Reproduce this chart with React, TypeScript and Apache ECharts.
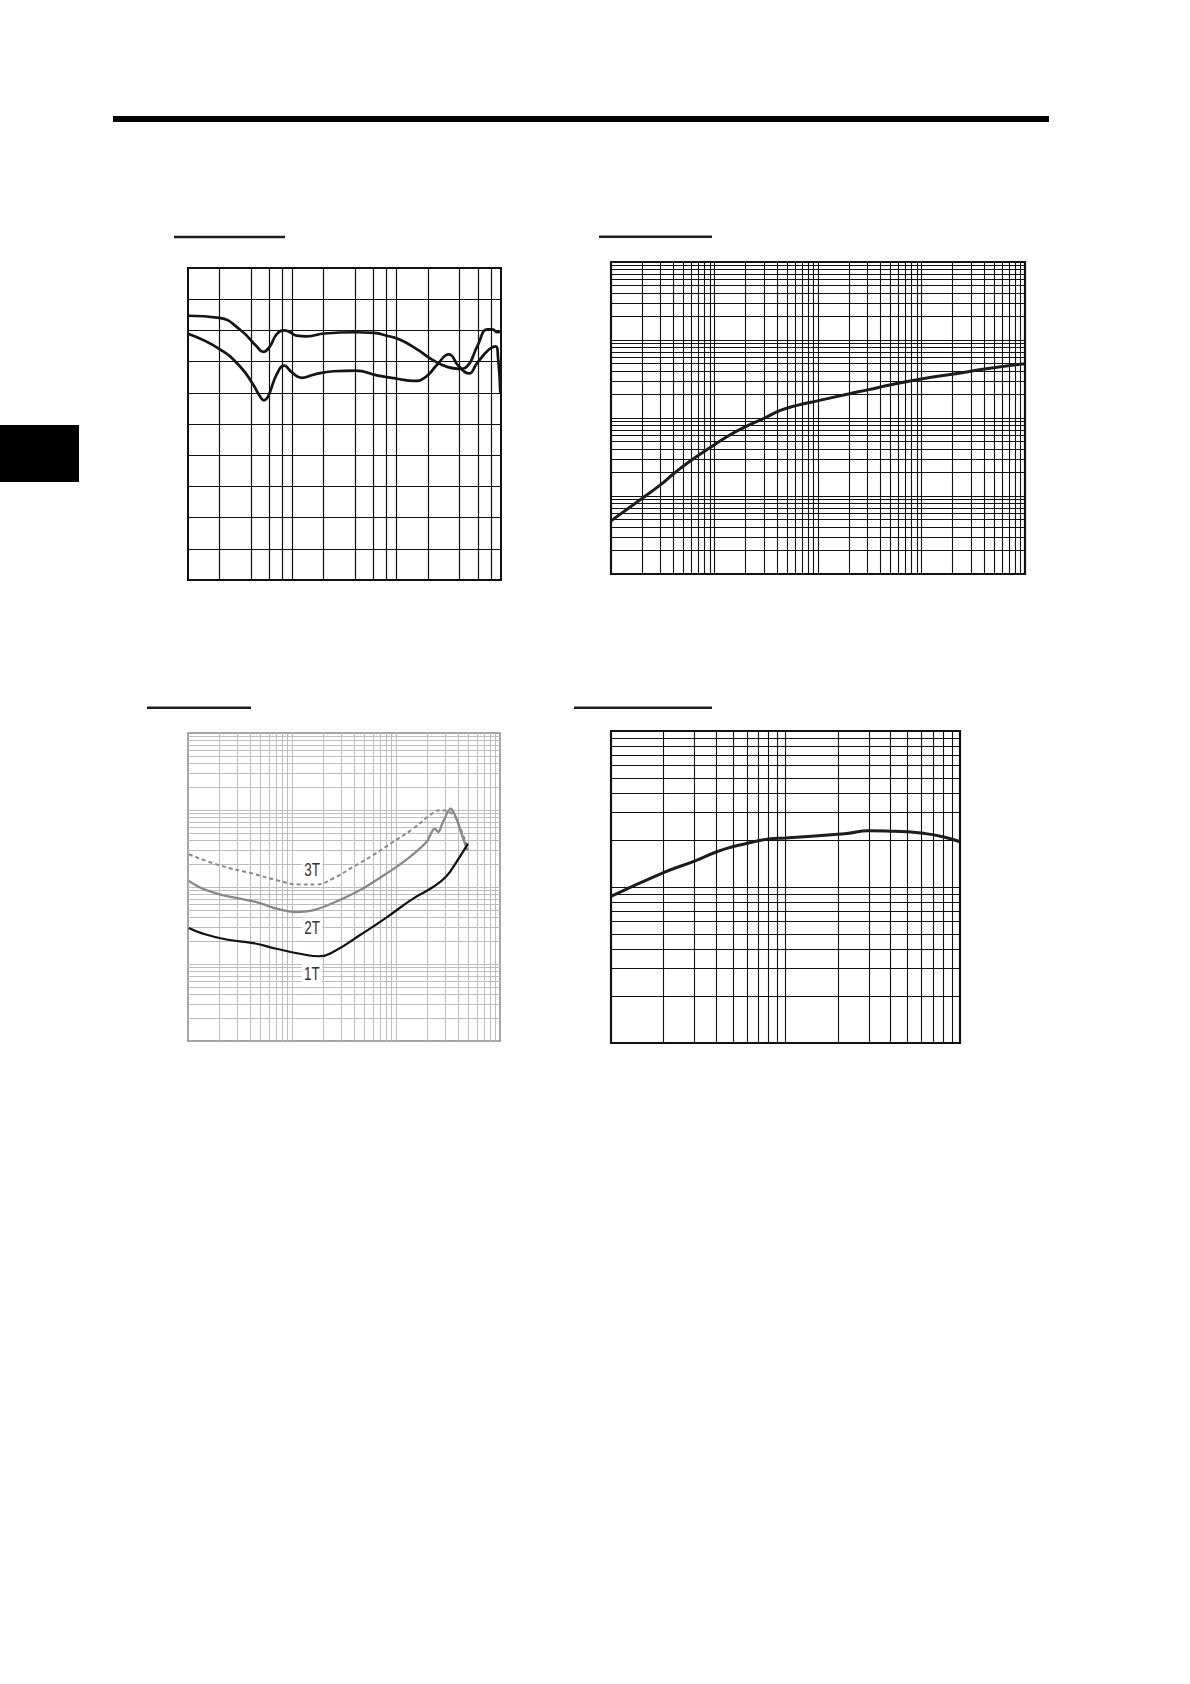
import { useEffect, useRef } from 'react';
import * as echarts from 'echarts';

// chart 1 (top left): two response curves, log x over 3 decades, linear y in 10 divisions
const respUpper: [number, number][] = [
  [1, 8.47], [1.99, 8.4], [3.14, 8.03], [4.54, 7.49], [5.26, 7.31], [6.1, 7.49],
  [7.06, 7.87], [8.37, 8.0], [9.5, 7.94], [11, 7.83], [13.7, 7.81], [20.3, 7.9],
  [40.4, 7.94], [60.1, 7.92], [80.7, 7.83], [108, 7.7], [157, 7.39], [227, 7.03],
  [305, 6.83], [394, 6.77], [474, 6.85], [592, 7.49], [740, 8.03], [826, 8.03],
  [923, 7.94], [1000, 7.97],
];
const respLower: [number, number][] = [
  [1, 7.89], [1.99, 7.41], [3.14, 6.85], [4.22, 6.26], [4.89, 5.89], [5.35, 5.76],
  [5.87, 5.89], [7.06, 6.58], [8.37, 6.87], [9.86, 6.66], [12.3, 6.48], [15.9, 6.58],
  [24.8, 6.69], [40.4, 6.71], [64.7, 6.56], [101, 6.45], [146, 6.38], [189, 6.5],
  [244, 6.9], [316, 7.23], [394, 6.85], [492, 6.62], [592, 6.96], [767, 7.39],
  [889, 7.49], [935, 7.17], [985, 6.0],
];

// chart 2 (top right): log-log, 4 x 4 decades
const riseCurve: [number, number][] = [
  [1, 4.8], [2.02, 9.42], [3.02, 13.97], [4.03, 19.3], [6.06, 29.2], [10, 45.5],
  [14.2, 61.1], [20, 77.4], [30.5, 100], [43.3, 125], [62.7, 145], [101, 167],
  [202, 205], [309, 231], [507, 267], [1026, 319], [2046, 366], [4078, 425],
  [10000, 497],
];

// chart 3 (bottom left): log-log, 3 x 4 decades, three turn counts
const curve3T: [number, number][] = [
  [1.02, 266], [2.02, 191], [4.22, 149], [7.6, 120], [11.9, 108], [17.2, 108],
  [24.8, 129], [38.6, 182], [60, 259], [93.6, 384], [146, 573], [211, 853],
  [263, 991], [328, 942], [410, 601], [492, 300],
];
const curve2T: [number, number][] = [
  [1.02, 120], [1.39, 95], [2.02, 80.4], [3.14, 70.7], [4.55, 63.8], [7.08, 52.4],
  [11, 47.3], [15.9, 49.8], [24.8, 62], [44.8, 90.6], [80.8, 149], [135.5, 245],
  [196, 384], [236, 573], [254, 517], [283, 698], [336, 1042], [381, 773],
  [426, 494], [486, 300],
];
const curve1T: [number, number][] = [
  [1.02, 29.4], [1.39, 24.8], [2.34, 20.8], [4.22, 18.7], [7.08, 15.8], [11.9, 13.6],
  [18.5, 12.6], [24.8, 14.3], [44.8, 23.6], [80.8, 40.1], [146, 70.7], [227, 100],
  [305, 138], [381, 211], [492, 366],
];
const turnLabels = ['3T', '2T', '1T'];
const turnLabelAt: [number, number][] = [[15.6, 165], [15.6, 29.7], [15.5, 7.5]];

// chart 4 (bottom right): log-log, 2 x 2 decades
const flatCurve: [number, number][] = [
  [1, 8.7], [2, 12.36], [3.01, 14.66], [3.97, 16.7], [4.97, 18.1], [5.98, 19.0],
  [8, 20.3], [10, 20.6], [19.9, 21.8], [22.5, 22.0], [29.9, 22.9], [39.9, 22.8],
  [49.9, 22.6], [59.8, 22.2], [79.6, 21.0], [100, 19.5],
];

// grid line positions inside each decade
const MINOR_ALL = [2, 3, 4, 5, 6, 7, 8, 9];
const MINOR_EVEN = [2, 4, 6, 8];
const DECADES_2 = [1, 10];
const DECADES_3 = [1, 10, 100];
const DECADES_4 = [1, 10, 100, 1000];

function logLines(decades: number[], minors: number[]) {
  const out: number[] = [];
  decades.forEach((d, i) => {
    if (i > 0) out.push(d);
    minors.forEach(m => out.push(d * m));
  });
  return out;
}

const hiddenAxis = (gridIndex: number, type: string, min: number, max: number) => ({
  gridIndex,
  type,
  min,
  max,
  logBase: 10,
  axisLine: { show: false },
  axisTick: { show: false },
  axisLabel: { show: false },
  splitLine: { show: false },
});

const gridLines = (idx: number, xs: number[], ys: number[], anchor: [number, number], color: string, width: number) => ({
  type: 'line',
  xAxisIndex: idx,
  yAxisIndex: idx,
  data: [anchor],
  symbol: 'none',
  silent: true,
  z: 1,
  lineStyle: { opacity: 0 },
  markLine: {
    silent: true,
    symbol: 'none',
    z: 1,
    label: { show: false },
    emphasis: { disabled: true },
    lineStyle: { color, width, type: 'solid' },
    data: [...xs.map(v => ({ xAxis: v })), ...ys.map(v => ({ yAxis: v }))],
  },
});

const curve = (idx: number, data: [number, number][], color: string, width: number, smooth: number, type: any = 'solid') => ({
  type: 'line',
  xAxisIndex: idx,
  yAxisIndex: idx,
  data,
  smooth,
  symbol: 'none',
  silent: true,
  z: 3,
  lineStyle: { color, width, type },
});

export default function App() {
  const chartRef = useRef<HTMLDivElement>(null);

  useEffect(() => {
    if (!chartRef.current) return;
    const chart = echarts.init(chartRef.current, null, { renderer: 'svg' });

    const underline = (x: number, y: number, w: number) => ({
      type: 'rect',
      shape: { x, y, width: w, height: 2.4 },
      style: { fill: '#1e1e1e' },
      silent: true,
    });

    chart.setOption({
      animation: false,
      backgroundColor: '#fff',
      grid: [
        { left: 188, top: 268, width: 313, height: 312, show: true, borderColor: '#111', borderWidth: 2 },
        { left: 611, top: 262, width: 414, height: 312, show: true, borderColor: '#111', borderWidth: 2.2 },
        { left: 188, top: 733, width: 312, height: 308, show: true, borderColor: '#a6a6a6', borderWidth: 2 },
        { left: 611, top: 731, width: 349, height: 312, show: true, borderColor: '#111', borderWidth: 2.2 },
      ],
      xAxis: [
        hiddenAxis(0, 'log', 1, 1000),
        hiddenAxis(1, 'log', 1, 10000),
        hiddenAxis(2, 'log', 1, 1000),
        hiddenAxis(3, 'log', 1, 100),
      ],
      yAxis: [
        {
          ...hiddenAxis(0, 'value', 0, 10),
          interval: 1,
          splitLine: { show: true, lineStyle: { color: '#111', width: 1.2 } },
        },
        hiddenAxis(1, 'log', 1, 10000),
        hiddenAxis(2, 'log', 1, 10000),
        hiddenAxis(3, 'log', 1, 100),
      ],
      graphic: [
        { type: 'rect', shape: { x: 113, y: 116, width: 936, height: 6 }, style: { fill: '#000' }, silent: true },
        { type: 'rect', shape: { x: 0, y: 425, width: 79, height: 57 }, style: { fill: '#000' }, silent: true },
        underline(174, 235.8, 111),
        underline(599, 235.5, 113),
        underline(147, 706.6, 104),
        underline(574, 706.6, 138),
      ],
      series: [
        gridLines(0, logLines(DECADES_3, MINOR_EVEN), [], [1, 0], '#111', 1.2),
        gridLines(1, logLines(DECADES_4, MINOR_ALL), logLines(DECADES_4, MINOR_ALL), [1, 1], '#111', 1.1),
        gridLines(2, logLines(DECADES_3, MINOR_ALL), logLines(DECADES_4, MINOR_ALL), [1, 1], '#bdbdbd', 1),
        gridLines(3, logLines(DECADES_2, MINOR_ALL), logLines(DECADES_2, MINOR_ALL), [1, 1], '#111', 1.1),

        curve(0, respUpper, '#141414', 2.7, 0.5),
        curve(0, respLower, '#141414', 2.7, 0.5),
        curve(1, riseCurve, '#1c1c1c', 3, 0.5),
        curve(2, curve3T, '#8a8a8a', 2, 0.5, [4, 3]),
        curve(2, curve2T, '#888888', 2.3, 0.35),
        curve(2, curve1T, '#111111', 2.2, 0.5),
        curve(3, flatCurve, '#1c1c1c', 3, 0.5),
        {
          type: 'custom',
          xAxisIndex: 2,
          yAxisIndex: 2,
          data: turnLabelAt,
          silent: true,
          z: 4,
          renderItem: (params: any, api: any) => {
            const p = api.coord([api.value(0), api.value(1)]);
            return {
              type: 'text',
              x: p[0],
              y: p[1],
              scaleX: 0.75,
              style: {
                text: turnLabels[params.dataIndex],
                fontFamily: '"Liberation Sans Narrow", "Liberation Sans", sans-serif',
                fontSize: 18,
                fill: '#333',
                align: 'center',
                verticalAlign: 'middle',
                backgroundColor: '#fff',
                padding: [1, 3],
              },
            };
          },
        },
      ],
    });

    return () => chart.dispose();
  }, []);

  return (
    <div
      ref={chartRef}
      style={{ position: 'absolute', left: 0, top: 0, width: 1190, height: 1684, background: '#fff' }}
    />
  );
}
